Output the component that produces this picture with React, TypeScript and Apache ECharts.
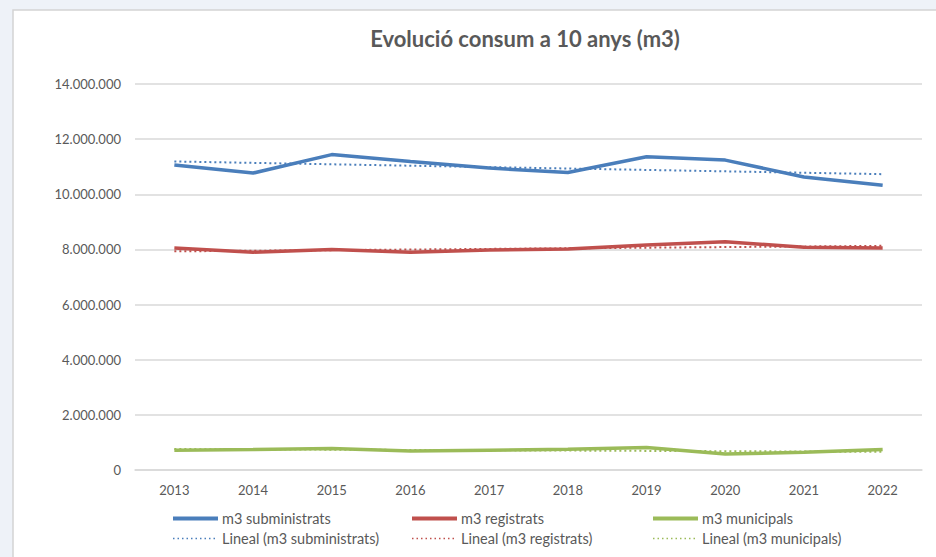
import React, { useEffect, useRef } from "react";
import * as echarts from "echarts";

const years = ["2013", "2014", "2015", "2016", "2017", "2018", "2019", "2020", "2021", "2022"];
const subministrats = [11060000, 10770000, 11440000, 11190000, 10950000, 10790000, 11360000, 11240000, 10630000, 10330000];
const registrats = [8050000, 7900000, 8000000, 7900000, 7980000, 8020000, 8160000, 8280000, 8080000, 8050000];
const municipals = [720000, 740000, 780000, 690000, 720000, 750000, 820000, 580000, 640000, 740000];
// trend-line endpoints (first and last year)
const trendSubministrats = [11190000, 10730000];
const trendRegistrats = [7930000, 8130000];
const trendMunicipals = [760000, 660000];

const FONT = "Lato, 'Open Sans', sans-serif";
const GRAY = "#595959";
const BLUE = "#4a7ebb";
const RED = "#c0504d";
const GREEN = "#9bbb59";

export default function App() {
  const ref = useRef<HTMLDivElement>(null);
  useEffect(() => {
    if (!ref.current) return;
    const chart = echarts.init(ref.current, undefined, { renderer: "svg" });
    const last = years.length - 1;
    const mainLine = (name: string, data: number[], color: string) => ({
      name,
      type: "line",
      data,
      symbol: "none",
      lineStyle: { color, width: 3.5 },
      itemStyle: { color },
      z: 3,
    });
    const trendLine = (name: string, ends: number[], color: string) => ({
      name,
      type: "line",
      data: [
        [0, ends[0]],
        [last, ends[1]],
      ],
      symbol: "none",
      lineStyle: { color, width: 2, type: [2, 3] },
      itemStyle: { color },
      z: 4,
    });
    const legendBase = {
      orient: "vertical",
      top: 511,
      padding: 0,
      itemWidth: 45,
      itemHeight: 10,
      itemGap: 5,
      itemStyle: { opacity: 0 },
      textStyle: { color: GRAY, fontSize: 14.5, fontFamily: FONT, padding: [0, 0, 0, -1] },
    };
    const legendItems = (main: string, trend: string, color: string) => [
      { name: main, lineStyle: { color, width: 4, type: "solid" } },
      { name: trend, lineStyle: { color, width: 1.5, type: [1.5, 3] } },
    ];
    chart.setOption({
      animation: false,
      backgroundColor: "#eef2f8",
      graphic: [
        {
          type: "rect",
          shape: { x: 13, y: 10, width: 960, height: 600 },
          style: { fill: "#ffffff", stroke: "#d4d4d4", lineWidth: 1.5 },
          z: -10,
          silent: true,
        },
      ],
      title: {
        text: "Evolució consum a 10 anys (m3)",
        left: 520,
        top: 22,
        textAlign: "center",
        textStyle: { color: GRAY, fontSize: 22, fontWeight: "bold", fontFamily: FONT },
      },
      grid: { left: 135, right: 14, top: 84, bottom: 87, containLabel: false },
      xAxis: {
        type: "category",
        data: years,
        boundaryGap: true,
        axisLine: { lineStyle: { color: "#d9d9d9", width: 1.5 } },
        axisTick: { show: false },
        axisLabel: { color: GRAY, fontSize: 13, fontFamily: FONT, margin: 13 },
      },
      yAxis: {
        type: "value",
        min: 0,
        max: 14000000,
        interval: 2000000,
        axisLine: { show: false },
        axisTick: { show: false },
        splitLine: { lineStyle: { color: "#d9d9d9", width: 1.5 } },
        axisLabel: {
          color: GRAY,
          fontSize: 13,
          fontFamily: FONT,
          margin: 14,
          formatter: (v: number) => (v === 0 ? "0" : v.toString().replace(/\B(?=(\d{3})+(?!\d))/g, ".")),
        },
      },
      legend: [
        { ...legendBase, left: 171, data: legendItems("m3 subministrats", "Lineal (m3 subministrats)", BLUE) },
        { ...legendBase, left: 410, data: legendItems("m3 registrats", "Lineal (m3 registrats)", RED) },
        { ...legendBase, left: 651, data: legendItems("m3 municipals", "Lineal (m3 municipals)", GREEN) },
      ],
      series: [
        mainLine("m3 subministrats", subministrats, BLUE),
        mainLine("m3 registrats", registrats, RED),
        mainLine("m3 municipals", municipals, GREEN),
        trendLine("Lineal (m3 subministrats)", trendSubministrats, BLUE),
        trendLine("Lineal (m3 registrats)", trendRegistrats, RED),
        trendLine("Lineal (m3 municipals)", trendMunicipals, GREEN),
      ],
    });
    return () => chart.dispose();
  }, []);
  return (
    <div style={{ position: "fixed", left: 0, top: 0, width: 936, height: 557 }}>
      <div ref={ref} style={{ width: 936, height: 557 }} />
    </div>
  );
}
